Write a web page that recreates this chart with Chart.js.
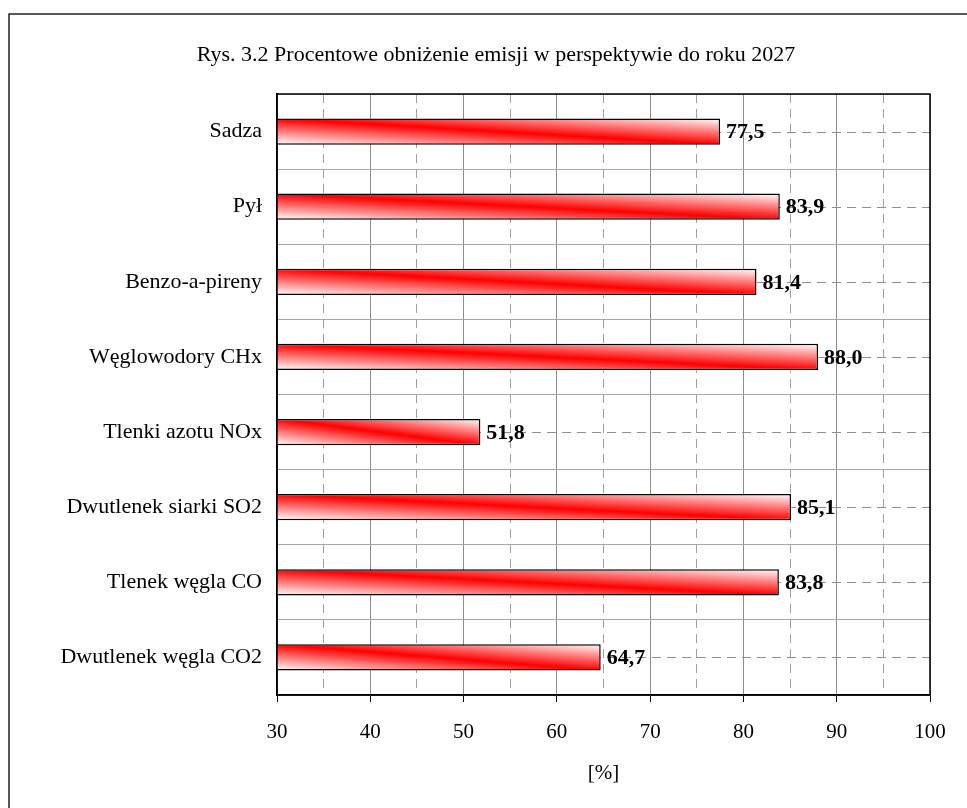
<!DOCTYPE html>
<html>
<head>
<meta charset="utf-8">
<script src="https://cdn.jsdelivr.net/npm/chart.js@4/dist/chart.umd.min.js"></script>
<style>
  html, body { margin: 0; padding: 0; background: #ffffff; }
  #wrap { width: 967px; height: 808px; }
</style>
</head>
<body>
<div id="wrap"><canvas id="chart" width="967" height="808"></canvas></div>
<script>
// Emission categories (top to bottom) and their percentage reduction
const categories = [
  'Sadza',
  'Pył',
  'Benzo-a-pireny',
  'Węglowodory CHx',
  'Tlenki azotu NOx',
  'Dwutlenek siarki SO2',
  'Tlenek węgla CO',
  'Dwutlenek węgla CO2'
];
const reduction = [77.5, 83.9, 81.4, 88.0, 51.8, 85.1, 83.8, 64.7];

// Axis range and tick spacing
const xMin = 30;
const xMax = 100;
const xStep = 5;
const labelStep = 10;

const titleText = 'Rys. 3.2 Procentowe obniżenie emisji w perspektywie do roku 2027';
const axisTitle = '[%]';

const SERIF = "'Liberation Serif', 'Times New Roman', serif";
const BAR_FRACTION = 0.35;

const fmt = v => v.toFixed(1).replace('.', ',');

// Diagonal white-red-white fill: red runs from the bar's top-left to its bottom-right
function barGradient(ctx) {
  const chart = ctx.chart;
  if (!chart.chartArea || ctx.type !== 'data') return '#ff0000';
  const xs = chart.scales.x, ys = chart.scales.y;
  const x0 = xs.getPixelForValue(xMin);
  const x1 = xs.getPixelForValue(ctx.raw);
  const cy = ys.getPixelForValue(ctx.dataIndex);
  const h = (ys.bottom - ys.top) / categories.length * BAR_FRACTION;
  const w = Math.max(1, x1 - x0);
  const L = Math.sqrt(w * w + h * h);
  const D = w * h / L;
  const cx = (x0 + x1) / 2;
  const g = chart.ctx.createLinearGradient(
    cx - h * D / L, cy + w * D / L,
    cx + h * D / L, cy - w * D / L
  );
  g.addColorStop(0, '#ffffff');
  g.addColorStop(0.5, '#ff0000');
  g.addColorStop(1, '#ffffff');
  return g;
}

const decor = {
  id: 'decor',
  beforeDraw(chart) {
    const c = chart.ctx;
    c.save();
    c.fillStyle = '#ffffff';
    c.fillRect(0, 0, chart.width, chart.height);
    // outer figure frame
    c.strokeStyle = '#222222';
    c.lineWidth = 1.5;
    c.beginPath();
    c.moveTo(9, chart.height + 5);
    c.lineTo(9, 14);
    c.lineTo(chart.width + 5, 14);
    c.stroke();
    // figure caption
    c.fillStyle = '#000000';
    c.font = '22px ' + SERIF;
    c.textAlign = 'center';
    c.textBaseline = 'middle';
    c.fillText(titleText, 496, 55);
    c.restore();
  },
  beforeDatasetsDraw(chart) {
    // dashed guide lines through each category centre
    const c = chart.ctx, a = chart.chartArea, ys = chart.scales.y;
    c.save();
    c.strokeStyle = '#8f8f8f';
    c.lineWidth = 1;
    c.setLineDash([9, 6]);
    categories.forEach((_, i) => {
      const y = Math.round(ys.getPixelForValue(i)) + 0.5;
      c.beginPath();
      c.moveTo(a.left, y);
      c.lineTo(a.right, y);
      c.stroke();
    });
    c.restore();
  },
  afterDatasetsDraw(chart) {
    const c = chart.ctx, a = chart.chartArea;
    c.save();
    c.strokeStyle = '#000000';
    c.lineWidth = 1.5;
    c.strokeRect(a.left, a.top, a.right - a.left, a.bottom - a.top);
    // value labels at the end of each bar
    const meta = chart.getDatasetMeta(0);
    c.fillStyle = '#000000';
    c.font = 'bold 22px ' + SERIF;
    c.textAlign = 'left';
    c.textBaseline = 'middle';
    meta.data.forEach((bar, i) => {
      c.fillText(fmt(reduction[i]), bar.x + 6, bar.y + 1);
    });
    c.restore();
  }
};

new Chart(document.getElementById('chart'), {
  type: 'bar',
  data: {
    labels: categories,
    datasets: [{
      data: reduction,
      backgroundColor: barGradient,
      borderColor: '#000000',
      borderWidth: 1.5,
      borderSkipped: false,
      categoryPercentage: 1,
      barPercentage: BAR_FRACTION
    }]
  },
  options: {
    indexAxis: 'y',
    responsive: false,
    animation: false,
    devicePixelRatio: 1,
    layout: { padding: { left: 0, right: 37, top: 94, bottom: 0 } },
    plugins: {
      legend: { display: false },
      tooltip: { enabled: false },
      title: { display: false }
    },
    scales: {
      x: {
        type: 'linear',
        min: xMin,
        max: xMax,
        afterFit(scale) { scale.height = 113; },
        ticks: {
          stepSize: xStep,
          color: '#000000',
          padding: 18,
          font: { family: SERIF, size: 21 },
          callback: v => (v % labelStep === 0 ? String(v) : '')
        },
        grid: {
          color: c => (c.tick && c.tick.value % labelStep === 0 ? '#8c8c8c' : '#a0a0a0'),
          lineWidth: 1,
          drawTicks: true,
          tickLength: 7,
          tickColor: c => (c.tick && c.tick.value % labelStep === 0 ? '#000000' : 'rgba(0,0,0,0)')
        },
        border: {
          display: true,
          color: '#000000',
          width: 1.5,
          dash: c => (c.tick && c.tick.value % labelStep !== 0 ? [9, 6] : [])
        },
        title: {
          display: true,
          text: axisTitle,
          color: '#000000',
          font: { family: SERIF, size: 21, lineHeight: 1.2 },
          padding: { top: 0, bottom: 22 }
        }
      },
      y: {
        type: 'category',
        afterFit(scale) { scale.width = 277; },
        ticks: {
          color: '#000000',
          padding: 15,
          font: { family: SERIF, size: 22 }
        },
        grid: {
          color: '#a6a6a6',
          lineWidth: 1,
          drawTicks: false,
          offset: true
        },
        border: { display: true, color: '#000000', width: 1.5 }
      }
    }
  },
  plugins: [decor]
});
</script>
</body>
</html>
